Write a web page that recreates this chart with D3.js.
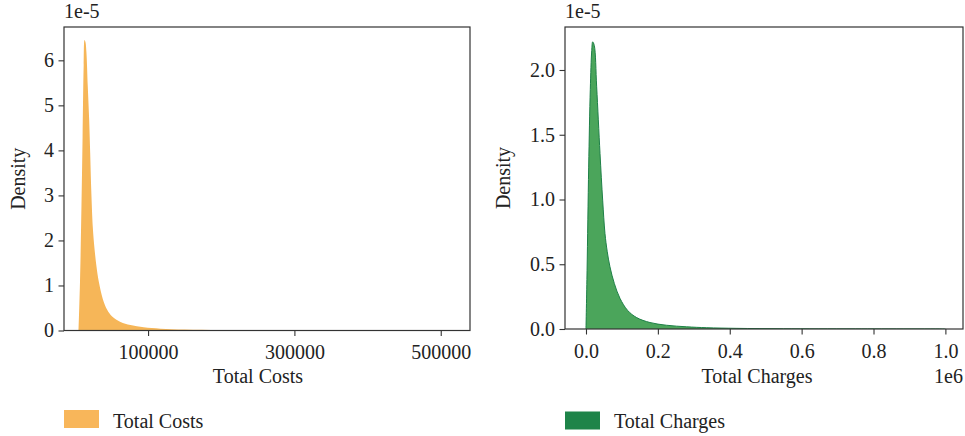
<!DOCTYPE html>
<html>
<head>
<meta charset="utf-8">
<script src="https://cdn.jsdelivr.net/npm/d3@7"></script>
<style>
  body { margin: 0; background: #fff; }
  svg text { font-family: "Liberation Serif", "DejaVu Serif", serif; fill: #222; }
</style>
</head>
<body>
<div id="chart-area"></div>
<script>
// density estimates (density in units of 1e-5)
const costX = [5000, 7000, 9000, 10500, 12000, 13200, 14500, 15800, 17600, 19500, 20900, 22500, 25000, 29500, 32700, 38100, 44100, 50900, 62300, 75900, 94100, 116900, 150000, 200000, 280000, 380000, 480000];
const costY = [0, 1.1, 2.8, 4.3, 5.9, 6.45, 6.4, 6.16, 5.42, 4.68, 3.94, 3.05, 2.16, 1.42, 1.08, 0.7, 0.46, 0.31, 0.19, 0.12, 0.07, 0.04, 0.02, 0.008, 0.003, 0.001, 0];

const chargeX = [0, 3000, 7500, 12000, 16000, 18600, 23000, 29700, 39000, 46400, 52800, 59000, 66700, 78800, 94500, 116000, 141000, 178000, 224000, 280000, 336000, 420000, 550000, 750000, 1000000];
const chargeY = [0, 0.45, 1.25, 1.85, 2.15, 2.217, 2.19, 1.87, 1.356, 0.995, 0.738, 0.6, 0.48, 0.352, 0.237, 0.143, 0.088, 0.05, 0.029, 0.017, 0.01, 0.005, 0.002, 0.001, 0];

const costTicksX = [100000, 300000, 500000];
const costTicksY = [0, 1, 2, 3, 4, 5, 6];
const chargeTicksX = [0, 200000, 400000, 600000, 800000, 1000000];
const chargeTicksY = [0, 0.5, 1.0, 1.5, 2.0];

const width = 965, height = 436;

const svg = d3.select("#chart-area")
    .append("svg")
    .attr("width", width)
    .attr("height", height);

function densityPanel(cfg) {
    var x = d3.scaleLinear().domain(cfg.xDomain).range([cfg.left, cfg.right]);
    var y = d3.scaleLinear().domain(cfg.yDomain).range([cfg.bottom, cfg.top]);

    var pts = cfg.xs.map((d, i) => [d, cfg.ys[i]]);
    var curve = d3.curveCatmullRom.alpha(0.5);

    var area = d3.area()
        .x(d => x(d[0]))
        .y0(y(0))
        .y1(d => y(d[1]))
        .curve(curve);

    var line = d3.line()
        .x(d => x(d[0]))
        .y(d => y(d[1]))
        .curve(curve);

    var g = svg.append("g");

    // keep the curve inside the axes box
    var clipId = "clip-" + cfg.left;
    g.append("clipPath")
        .attr("id", clipId)
        .append("rect")
        .attr("x", cfg.left)
        .attr("y", cfg.top)
        .attr("width", cfg.right - cfg.left)
        .attr("height", cfg.bottom - cfg.top);

    var marks = g.append("g").attr("clip-path", "url(#" + clipId + ")");

    marks.append("path")
        .datum(pts)
        .attr("d", area)
        .attr("fill", cfg.fill);

    if (cfg.stroke) {
        marks.append("path")
            .datum(pts)
            .attr("d", line)
            .attr("fill", "none")
            .attr("stroke", cfg.stroke)
            .attr("stroke-width", 1);
    }

    // axes
    var xAxis = d3.axisBottom(x)
        .tickValues(cfg.xTicks)
        .tickFormat(cfg.xFormat)
        .tickSizeInner(5.5)
        .tickSizeOuter(0)
        .tickPadding(9);

    var yAxis = d3.axisLeft(y)
        .tickValues(cfg.yTicks)
        .tickFormat(cfg.yFormat)
        .tickSizeInner(5.5)
        .tickSizeOuter(0)
        .tickPadding(4.5);

    var gx = g.append("g")
        .attr("transform", "translate(0," + cfg.bottom + ")")
        .call(xAxis);
    var gy = g.append("g")
        .attr("transform", "translate(" + cfg.left + ",0)")
        .call(yAxis);

    [gx, gy].forEach(a => {
        a.select(".domain").remove();
        a.selectAll(".tick line").attr("stroke", "#333").attr("stroke-width", 1.1);
        a.selectAll(".tick text").style("font-size", "20px").attr("fill", "#222");
    });

    // spines
    g.append("rect")
        .attr("x", cfg.left)
        .attr("y", cfg.top)
        .attr("width", cfg.right - cfg.left)
        .attr("height", cfg.bottom - cfg.top)
        .attr("fill", "none")
        .attr("stroke", "#333")
        .attr("stroke-width", 1.2);

    // labels
    g.append("text")
        .attr("x", cfg.xLabelX)
        .attr("y", 383)
        .attr("text-anchor", "middle")
        .style("font-size", "20px")
        .text(cfg.xLabel);

    g.append("text")
        .attr("transform", "translate(" + cfg.yLabelX + "," + ((cfg.top + cfg.bottom) / 2) + ") rotate(-90)")
        .attr("text-anchor", "middle")
        .style("font-size", "20px")
        .text("Density");

    g.append("text")
        .attr("x", cfg.left)
        .attr("y", 18)
        .style("font-size", "20px")
        .text("1e-5");

    if (cfg.xOffset) {
        g.append("text")
            .attr("x", cfg.right)
            .attr("y", 383)
            .attr("text-anchor", "end")
            .style("font-size", "20px")
            .text(cfg.xOffset);
    }

    // legend
    g.append("rect")
        .attr("x", cfg.legendX)
        .attr("y", cfg.legendY)
        .attr("width", 35)
        .attr("height", 18)
        .attr("fill", cfg.legendColor);

    g.append("text")
        .attr("x", cfg.legendX + 49)
        .attr("y", 428)
        .style("font-size", "20px")
        .text(cfg.xLabel);
}

densityPanel({
    xs: costX, ys: costY,
    left: 64, right: 470, top: 27, bottom: 330.5,
    xDomain: [-14900, 540000], yDomain: [0, 6.74],
    xTicks: costTicksX, yTicks: costTicksY,
    xFormat: d3.format("d"), yFormat: d3.format("d"),
    fill: "#F6B658", stroke: null,
    xLabel: "Total Costs", xLabelX: 258, yLabelX: 25,
    legendX: 64, legendY: 410, legendColor: "#F8B65A"
});

densityPanel({
    xs: chargeX, ys: chargeY,
    left: 565, right: 963, top: 27, bottom: 329,
    xDomain: [-58400, 1049000], yDomain: [0, 2.332],
    xTicks: chargeTicksX, yTicks: chargeTicksY,
    xFormat: d => d3.format(".1f")(d / 1e6), yFormat: d3.format(".1f"),
    fill: "#4BA55B", stroke: "#1E8047",
    xLabel: "Total Charges", xLabelX: 757, yLabelX: 510,
    xOffset: "1e6",
    legendX: 565, legendY: 411.5, legendColor: "#1E8449"
});
</script>
</body>
</html>
